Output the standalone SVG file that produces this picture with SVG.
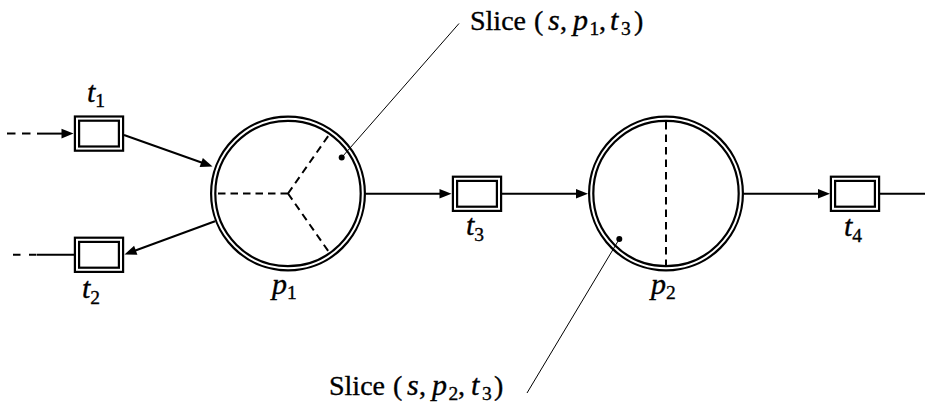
<svg xmlns="http://www.w3.org/2000/svg" width="932" height="409" viewBox="0 0 932 409">
<style>
.ln{stroke:#000;stroke-width:2;fill:none}
.dsh{stroke:#000;stroke-width:2;fill:none;stroke-dasharray:7.5 5}
.dbo{fill:#fff;stroke:#000;stroke-width:6.4}
.dbc{fill:none;stroke:#000;stroke-width:6.4}
.dbi{fill:none;stroke:#fff;stroke-width:2}
.lead{stroke:#000;stroke-width:1;fill:none}
text{font-family:"Liberation Serif","Times New Roman",serif;font-size:28px;fill:#000;stroke:#000;stroke-width:0.35}
.it{font-style:italic;font-size:30px}
.sub{font-size:19.5px;font-style:normal}
</style>
<defs>
<marker id="ah" markerUnits="userSpaceOnUse" markerWidth="16" markerHeight="12" viewBox="-5 -6 14 12" refX="0" refY="0" orient="auto">
<path d="M8,0 L-4,-4.8 L-4,4.8 Z" fill="#000"/>
</marker>
</defs>
<g id="connectors">
<line class="ln" x1="7" y1="133.6" x2="37" y2="133.6" style="stroke-dasharray:8.5 6.5"/>
<line class="ln" x1="37" y1="133.6" x2="65.5" y2="133.6" marker-end="url(#ah)"/>
<line class="ln" x1="124" y1="135" x2="205" y2="163.8" marker-end="url(#ah)"/>
<line class="ln" x1="215" y1="221.2" x2="132" y2="251.7" marker-end="url(#ah)"/>
<line class="ln" x1="13" y1="254.8" x2="37" y2="254.8" style="stroke-dasharray:7.5 8.5"/>
<line class="ln" x1="37" y1="254.8" x2="74" y2="254.8"/>
<line class="ln" x1="366" y1="193.8" x2="443.5" y2="193.8" marker-end="url(#ah)"/>
<line class="ln" x1="502" y1="193.8" x2="580" y2="193.8" marker-end="url(#ah)"/>
<line class="ln" x1="744" y1="193.8" x2="822" y2="193.8" marker-end="url(#ah)"/>
<line class="ln" x1="880" y1="193.8" x2="925" y2="193.8"/>
</g>
<g id="t1">
<rect class="dbo" x="77" y="118.6" width="44" height="30"/>
<rect class="dbi" x="77" y="118.6" width="44" height="30"/>
<text x="87" y="102"><tspan class="it">t</tspan><tspan class="sub" dy="5">1</tspan></text>
</g>
<g id="t2">
<rect class="dbo" x="77" y="239.8" width="44" height="30"/>
<rect class="dbi" x="77" y="239.8" width="44" height="30"/>
<text x="82" y="298"><tspan class="it">t</tspan><tspan class="sub" dy="6">2</tspan></text>
</g>
<g id="t3">
<rect class="dbo" x="455" y="178.8" width="44" height="30"/>
<rect class="dbi" x="455" y="178.8" width="44" height="30"/>
<text x="466" y="235"><tspan class="it">t</tspan><tspan class="sub" dy="6">3</tspan></text>
</g>
<g id="t4">
<rect class="dbo" x="833" y="178.8" width="44" height="30"/>
<rect class="dbi" x="833" y="178.8" width="44" height="30"/>
<text x="844" y="236"><tspan class="it">t</tspan><tspan class="sub" dy="6">4</tspan></text>
</g>
<g id="p1">
<path class="dsh" d="M288,193.5 H216.5 M288,193.5 L329,134.9 M288,193.5 L329,252.1"/>
<circle class="dbc" cx="288" cy="193.5" r="74.8"/>
<circle class="dbi" cx="288" cy="193.5" r="74.8"/>
<circle cx="341.7" cy="157.5" r="3" fill="#000"/>
<text x="272" y="294"><tspan class="it">p</tspan><tspan class="sub" dy="5">1</tspan></text>
</g>
<g id="p2">
<path class="dsh" d="M666,122 V265"/>
<circle class="dbc" cx="666" cy="193.5" r="74.8"/>
<circle class="dbi" cx="666" cy="193.5" r="74.8"/>
<circle cx="619.3" cy="239" r="3" fill="#000"/>
<text x="651" y="293.5"><tspan class="it">p</tspan><tspan class="sub" dy="5">2</tspan></text>
</g>
<g id="slice1">
<line class="lead" x1="341.7" y1="157.5" x2="459" y2="23.5"/>
<text y="30"><tspan x="470">Slice</tspan><tspan x="534">(</tspan><tspan x="548" class="it">s</tspan><tspan x="560">,</tspan><tspan x="573" class="it">p</tspan><tspan x="589.5" y="35" class="sub">1</tspan><tspan x="599" y="30">,</tspan><tspan x="610" class="it">t</tspan><tspan x="621" y="35" class="sub">3</tspan><tspan x="634" y="30">)</tspan></text>
</g>
<g id="slice2">
<line class="lead" x1="619.3" y1="239" x2="527" y2="393"/>
<text y="395"><tspan x="329">Slice</tspan><tspan x="393">(</tspan><tspan x="407" class="it">s</tspan><tspan x="419">,</tspan><tspan x="432" class="it">p</tspan><tspan x="448.5" y="400" class="sub">2</tspan><tspan x="458" y="395">,</tspan><tspan x="471" class="it">t</tspan><tspan x="482" y="400" class="sub">3</tspan><tspan x="494" y="395">)</tspan></text>
</g>
</svg>
